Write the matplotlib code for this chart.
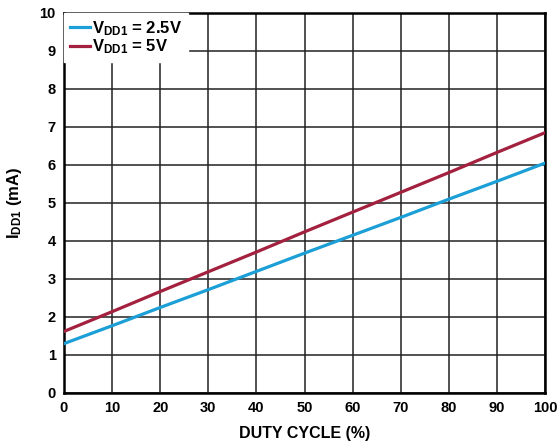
import matplotlib
matplotlib.use("Agg")
import matplotlib.pyplot as plt

duty = [0, 10, 20, 30, 40, 50, 60, 70, 80, 90, 100]
idd_25 = [1.30, 1.77, 2.25, 2.72, 3.20, 3.68, 4.15, 4.62, 5.10, 5.57, 6.05]
idd_5 = [1.62, 2.14, 2.67, 3.19, 3.71, 4.24, 4.76, 5.28, 5.80, 6.33, 6.85]
xticks = [0, 10, 20, 30, 40, 50, 60, 70, 80, 90, 100]
yticks = [0, 1, 2, 3, 4, 5, 6, 7, 8, 9, 10]

plt.rcParams['font.family'] = ['Liberation Sans', 'DejaVu Sans']
plt.rcParams['font.weight'] = 'bold'
plt.rcParams['mathtext.fontset'] = 'custom'
plt.rcParams['mathtext.rm'] = 'Liberation Sans:bold'
plt.rcParams['mathtext.bf'] = 'Liberation Sans:bold'
plt.rcParams['mathtext.it'] = 'Liberation Sans:bold'

fig = plt.figure(figsize=(5.57, 4.41), dpi=100)
ax = fig.add_axes([64/557, 48/441, 481/557, 380/441])

ax.plot(duty, idd_25, color='#1b9fd6', lw=2.3, label=r'$\mathrm{V_{DD1}}$ = 2.5V', zorder=3)
ax.plot(duty, idd_5, color='#a3203f', lw=2.3, label=r'$\mathrm{V_{DD1}}$ = 5V', zorder=3)

ax.set_xlim(0, 100)
ax.set_ylim(0, 10)
ax.set_xticks(xticks)
ax.set_yticks(yticks)
ax.grid(True, color='#222222', lw=1.1, zorder=1)
ax.set_axisbelow(True)
for s in ax.spines.values():
    s.set_linewidth(1.8)
    s.set_color('black')
ax.tick_params(length=0, labelsize=10.5, pad=6)
for lab in ax.get_xticklabels() + ax.get_yticklabels():
    lab.set_fontweight('bold')

ax.set_xlabel('DUTY CYCLE (%)', fontsize=11.5, fontweight='bold', labelpad=8)
ax.set_ylabel(r'$\mathrm{I_{DD1}}$ (mA)', fontsize=12, fontweight='bold', labelpad=11)

leg = ax.legend(loc='upper left', borderaxespad=0.0, frameon=True, fancybox=False,
                facecolor='white', edgecolor='white', framealpha=1.0,
                fontsize=12, handlelength=1.2, handletextpad=0.15, labelspacing=0.0,
                borderpad=0.35)
leg.set_zorder(5)

fig.savefig('out.png', dpi=100)
